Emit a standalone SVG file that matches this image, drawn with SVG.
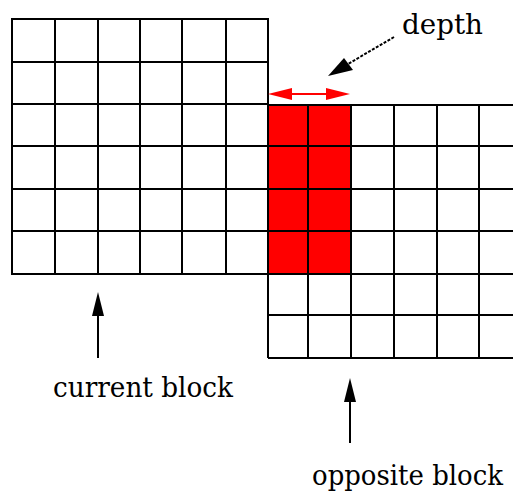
<svg xmlns="http://www.w3.org/2000/svg" width="513" height="494" viewBox="0 0 513 494">
<style>
.g{fill:none;stroke:#000;stroke-width:2}
.red{fill:#ff0000;stroke:none}
.t{font-family:"DejaVu Serif","Liberation Serif",serif;fill:#000}
.ar{stroke:#000;stroke-width:2;fill:none}
.hd{fill:#000;stroke:none}
</style>
<rect width="513" height="494" fill="#fff"/>
<g id="opposite-block-red">
<rect class="red" x="268" y="105" width="83" height="169"/>
</g>
<g id="current-block">
<rect class="g" x="12" y="19" width="256" height="255"/>
<path class="g" d="M55 19V274M98 19V274M140 19V274M182 19V274M226 19V274M12 62H268M12 104H268M12 146H268M12 189H268M12 231H268"/>
</g>
<g id="opposite-block">
<path class="g" d="M268 105H513M268 146H513M268 189H513M268 231H513M268 274H513M268 315H513M268 358H513M268 105V358M308 105V358M351 105V358M394 105V358M437 105V358M479 105V358"/>
</g>
<g id="connectors">
<g id="depth-dim">
<line x1="285" y1="94" x2="334" y2="94" stroke="#ff0000" stroke-width="2"/>
<polygon points="268,94 292,88 292,100" fill="#ff0000"/>
<polygon points="350,94 326,88 326,100" fill="#ff0000"/>
</g>
<g id="depth-pointer">
<line x1="394" y1="37" x2="348" y2="64" stroke="#000" stroke-width="2" stroke-dasharray="3,1.5"/>
<polygon class="hd" points="328,76 344,58 353,70"/>
</g>
<g id="current-arrow">
<line class="ar" x1="98" y1="358" x2="98" y2="312"/>
<polygon class="hd" points="98,292 104,316 92,316"/>
</g>
<g id="opposite-arrow">
<line class="ar" x1="350" y1="443" x2="350" y2="398"/>
<polygon class="hd" points="350,378 356,402 344,402"/>
</g>
</g>
<g id="labels">
<text class="t" x="402" y="34" font-size="28" textLength="81" lengthAdjust="spacingAndGlyphs">depth</text>
<text class="t" x="53" y="397" font-size="27" textLength="180" lengthAdjust="spacingAndGlyphs">current block</text>
<text class="t" x="312" y="485" font-size="27" textLength="191" lengthAdjust="spacingAndGlyphs">opposite block</text>
</g>
</svg>
